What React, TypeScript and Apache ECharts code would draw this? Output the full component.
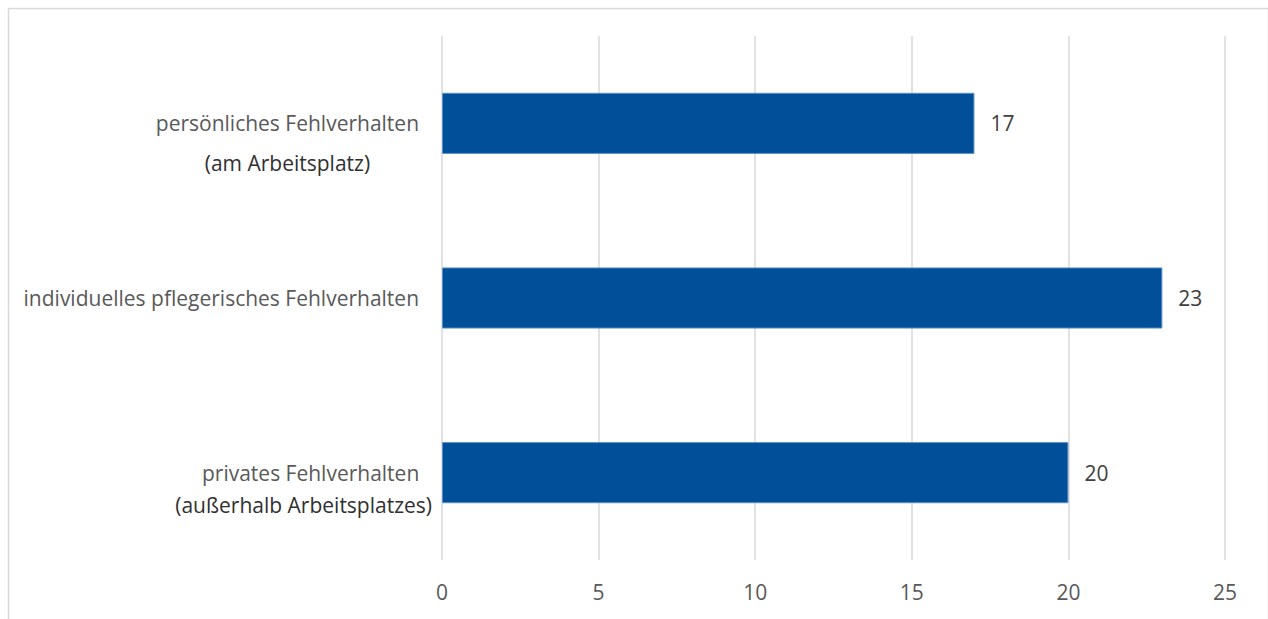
import React, { useEffect, useRef } from "react";
import * as echarts from "echarts";

const categoryLine1 = ["persönliches Fehlverhalten", "individuelles pflegerisches Fehlverhalten", "privates Fehlverhalten"];
const categoryLine2 = ["(am Arbeitsplatz)", "", "(außerhalb Arbeitsplatzes)"];
const values = [17, 23, 20];
const xTicks = { min: 0, max: 25, interval: 5 };

const FONT = "Open Sans";
const FS = 21;

export default function App() {
  const ref = useRef<HTMLDivElement>(null);
  useEffect(() => {
    if (!ref.current) return;
    const chart = echarts.init(ref.current, undefined, { renderer: "svg" });
    const lineHeights = [40, 36, 32];
    const rightPads = [13, 13, 0];
    const line1LeftPads = [0, 0, 14];
    const yData = categoryLine1.map((l1, i) => {
      const l2 = categoryLine2[i];
      const lh = lineHeights[i];
      return {
        value: l2 ? l1 + "\n" + l2 : l1,
        textStyle: {
          padding: [l2 ? lh : 0, rightPads[i], 0, 0],
        },
      };
    });
    const rich: any = {};
    lineHeights.forEach((lh, i) => {
      rich["a" + i] = {
        color: "#595959",
        fontSize: FS,
        fontFamily: FONT,
        lineHeight: lh,
        align: "center",
        padding: [0, 0, 0, line1LeftPads[i]],
      };
      rich["b" + i] = { color: "#303030", fontSize: FS, fontFamily: FONT, lineHeight: lh, align: "center" };
    });
    chart.setOption({
      animation: false,
      textStyle: { fontFamily: FONT },
      graphic: [
        {
          type: "rect",
          left: 6,
          top: 6,
          shape: { width: 1260, height: 660 },
          style: { fill: "none", stroke: "#d9d9d9", lineWidth: 1.5 },
          silent: true,
        },
      ],
      grid: { left: 442, right: 43, top: 36, bottom: 59, containLabel: false },
      xAxis: {
        type: "value",
        min: xTicks.min,
        max: xTicks.max,
        interval: xTicks.interval,
        axisLine: { show: false },
        axisTick: { show: false },
        splitLine: { show: true, lineStyle: { color: "#d9d9d9", width: 1.5 } },
        axisLabel: { color: "#595959", fontSize: FS, fontFamily: FONT, margin: 21 },
      },
      yAxis: {
        type: "category",
        inverse: true,
        data: yData,
        axisLine: { show: false },
        axisTick: { show: false },
        axisLabel: {
          margin: 10,
          align: "right",
          fontSize: FS,
          fontFamily: FONT,
          color: "#595959",
          formatter: (v: string, i: number) => {
            const parts = v.split("\n");
            return parts.map((p, k) => "{" + (k === 0 ? "a" : "b") + i + "|" + p + "}").join("\n");
          },
          rich,
        },
      },
      series: [
        {
          type: "bar",
          data: values,
          barCategoryGap: "65%",
          itemStyle: { color: "#004f98", borderColor: "#5b8fc8", borderWidth: 1 },
          label: {
            show: true,
            position: "right",
            distance: 16,
            color: "#404040",
            fontSize: FS,
            fontFamily: FONT,
          },
        },
      ],
    });
    return () => chart.dispose();
  }, []);
  return (
    <div
      ref={ref}
      style={{ position: "fixed", left: 0, top: 0, width: 1268, height: 619, background: "#fff" }}
    />
  );
}
